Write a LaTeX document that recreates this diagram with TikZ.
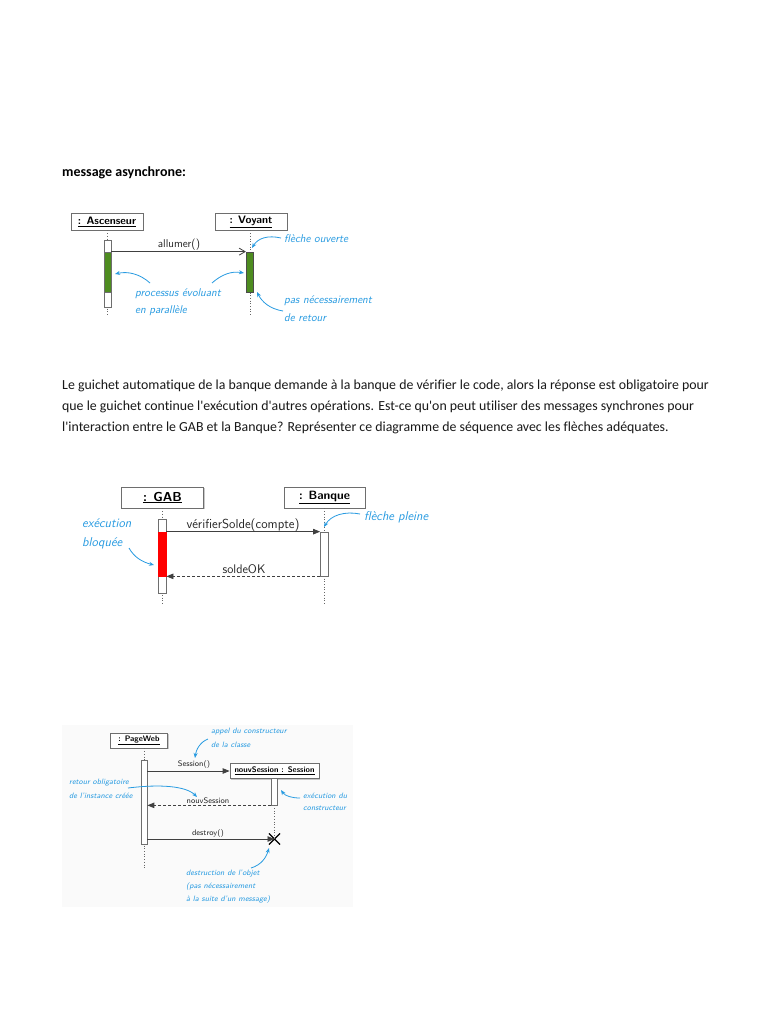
\documentclass[tikz,border=0pt]{standalone}
\usepackage{fontspec}
\newfontfamily\carlito[Ligatures={NoCommon}]{Carlito}
\usetikzlibrary{arrows.meta,shapes.misc,shadows}
\definecolor{annot}{RGB}{40,155,225}
\definecolor{actgreen}{RGB}{78,140,32}
\definecolor{boxedge}{RGB}{110,110,110}
\begin{document}
\begin{tikzpicture}[x=1pt,y=-1pt,
  obj/.style={draw=boxedge, fill=white, inner sep=0pt, line width=0.8pt, drop shadow={shadow xshift=1.2pt, shadow yshift=-1.2pt, fill=black!35, opacity=0.6}},
  lifeline/.style={draw=black!60, dotted, line width=0.7pt},
  act/.style={draw=boxedge, fill=white, inner sep=0pt, line width=0.7pt},
  msg/.style={draw=black!75, line width=0.8pt},
  asyncarrow/.style={msg, -{Straight Barb[length=6pt,width=7pt]}},
  syncarrow/.style={msg, -{Triangle[length=7pt,width=5.5pt]}},
  retarrow/.style={msg, densely dashed, -{Triangle[length=7pt,width=5.5pt]}},
  annarrow/.style={draw=annot, line width=0.8pt, -{Stealth[length=5pt,width=4pt]}},
  anntext/.style={text=annot, anchor=west, inner sep=0pt, font=\sffamily\itshape\fontsize{11.3}{13}\selectfont},
  lbl/.style={inner sep=0pt, text=black!85},
  partext/.style={anchor=base west, inner sep=0pt, font=\carlito\fontsize{13.85}{17}\selectfont, text=black!90}
]
\path[use as bounding box] (0,0) rectangle (768,1024);
\fill[white] (0,0) rectangle (768,1024);

% ---------- title ----------
\node[anchor=base west, inner sep=0pt, font=\carlito\bfseries\fontsize{14}{17}\selectfont] (title) at (62,177) {message asynchrone:};

% ---------- diagram 1 ----------
\begin{scope}[every node/.append style={font=\sffamily\fontsize{10.5}{12}\selectfont}]
\node[obj, minimum width=72, minimum height=17, font=\sffamily\bfseries\fontsize{10.8}{12}\selectfont] (asc) at (107,221.5) {\underline{: Ascenseur}};
\node[obj, minimum width=72, minimum height=17, font=\sffamily\bfseries\fontsize{10.8}{12}\selectfont] (voy) at (251,221.5) {\underline{: Voyant}};
\coordinate (ascEnd) at (107,316);
\coordinate (voyEnd) at (250,316);
\draw[lifeline] (asc.south) -- (ascEnd);
\draw[lifeline] (voy.south -| voyEnd) -- (voyEnd);
\node[act, minimum width=7, minimum height=67] (ascAct) at (107.5,273.5) {};
\node[act, fill=actgreen, minimum width=7, minimum height=40] (ascG) at (107.5,272) {};
\node[act, fill=actgreen, minimum width=7.5, minimum height=40, draw=black!70] (voyAct) at (250,272) {};
\draw[asyncarrow] (ascG.north east) -- (voyAct.north west);
\node[lbl, font=\sffamily\fontsize{11.3}{12}\selectfont] (allLbl) at (179,245) {allumer()};
\node[anntext] (t1a) at (284,239) {flèche ouverte};
\node[anntext] (t1b) at (135,294) {processus évoluant};
\node[anntext] (t1c) at (135,311) {en parallèle};
\node[anntext] (t1d) at (284,301) {pas nécessairement};
\node[anntext] (t1e) at (284,318) {de retour};
\coordinate (a1s) at (281,238); \coordinate (a1e) at (252,248);
\draw[annarrow] (a1s) .. controls (268,235) and (258,238) .. (a1e);
\coordinate (a2s) at (150,283); \coordinate (a2e) at (115,274);
\draw[annarrow] (a2s) .. controls (140,274) and (128,271) .. (a2e);
\coordinate (a3s) at (212,283); \coordinate (a3e) at (244,273);
\draw[annarrow] (a3s) .. controls (222,274) and (232,271) .. (a3e);
\coordinate (a4s) at (283,311); \coordinate (a4e) at (257,292);
\draw[annarrow] (a4s) .. controls (270,309) and (262,302) .. (a4e);
\end{scope}

% ---------- paragraph ----------
\node[partext] (par1) at (62,389) {Le guichet automatique de la banque demande à la banque de vérifier le code, alors la réponse est obligatoire pour};
\node[partext] (par2) at (62,410) {que le guichet continue l'exécution d'autres opérations. Est-ce qu'on peut utiliser des messages synchrones pour};
\node[partext] (par3) at (62,431) {l'interaction entre le GAB et la Banque? Représenter ce diagramme de séquence avec les flèches adéquates.};

% ---------- diagram 2 ----------
\begin{scope}
\node[obj, minimum width=82, minimum height=21, font=\sffamily\bfseries\fontsize{13}{14}\selectfont] (gab) at (162.5,497.5) {\underline{: GAB}};
\node[obj, minimum width=81, minimum height=21, font=\sffamily\bfseries\fontsize{12}{14}\selectfont] (bnq) at (324.5,497.5) {\underline{: Banque}};
\coordinate (gabEnd) at (162,603);
\coordinate (bnqEnd) at (324.5,603);
\draw[lifeline] (gab.south -| gabEnd) -- (gabEnd);
\draw[lifeline] (bnq.south) -- (bnqEnd);
\node[act, minimum width=7.5, minimum height=74] (gabAct) at (162.3,556) {};
\node[act, fill=red, draw=red, minimum width=7.5, minimum height=44] (gabR) at (162.3,554) {};
\node[act, minimum width=8, minimum height=44] (bnqAct) at (324.5,554) {};
\draw[syncarrow] (gabR.north east) -- (bnqAct.north west);
\draw[retarrow] (bnqAct.south west) -- (gabR.south east);
\node[lbl, font=\sffamily\fontsize{13}{14}\selectfont] (verLbl) at (243,525) {vérifierSolde(compte)};
\node[lbl, font=\sffamily\fontsize{12.5}{14}\selectfont] (sokLbl) at (244,569) {soldeOK};
\node[anntext, font=\sffamily\itshape\fontsize{12.8}{14}\selectfont] (t2a) at (82,523) {exécution};
\node[anntext, font=\sffamily\itshape\fontsize{12.8}{14}\selectfont] (t2b) at (82,543) {bloquée};
\node[anntext, font=\sffamily\itshape\fontsize{12.8}{14}\selectfont] (t2c) at (364,517) {flèche pleine};
\coordinate (b1s) at (360,514); \coordinate (b1e) at (324,527);
\draw[annarrow] (b1s) .. controls (345,511) and (331,515) .. (b1e);
\coordinate (b2s) at (129,548); \coordinate (b2e) at (154,565);
\draw[annarrow] (b2s) .. controls (134,557) and (142,562) .. (b2e);
\end{scope}

% ---------- diagram 3 ----------
\fill[black!2] (62,725) rectangle (353,907);
\begin{scope}[every node/.append style={font=\sffamily\fontsize{8}{9}\selectfont},
  anntext/.append style={font=\sffamily\itshape\fontsize{7.8}{9}\selectfont}]
\node[obj, minimum width=57, minimum height=15, font=\sffamily\bfseries\fontsize{8}{9}\selectfont] (pw) at (139,740.5) {\underline{: PageWeb}};
\coordinate (pwEnd) at (144,868);
\draw[lifeline] (pw.south -| pwEnd) -- (pwEnd);
\node[act, minimum width=6, minimum height=84] (pwAct) at (144,802) {};
\node[obj, minimum width=89, minimum height=15, font=\sffamily\bfseries\fontsize{8}{9}\selectfont] (ses) at (274.5,771) {\underline{nouvSession : Session}};
\node[act, minimum width=6, minimum height=27] (sesAct) at (274.5,791.5) {};
\node[cross out, draw=black, line width=1.1pt, minimum size=10pt, inner sep=0pt] (kill) at (274.5,839) {};
\draw[lifeline] (sesAct.south) -- (kill.center);
\coordinate (m1) at (pwAct.east |- ses.west);
\draw[syncarrow] (m1) -- (ses.west);
\coordinate (m2) at (pwAct.east |- sesAct.south);
\draw[retarrow] (sesAct.south west) -- (m2);
\coordinate (m3) at (pwAct.east |- kill.center);
\draw[syncarrow] (m3) -- (kill.center);
\node[lbl] (sesLbl) at (194,764) {Session()};
\node[lbl] (nsLbl) at (208,800.5) {nouvSession};
\node[lbl] (dsLbl) at (208,833.5) {destroy()};
\node[anntext] (t3a) at (211,732) {appel du constructeur};
\node[anntext] (t3b) at (211,745) {de la classe};
\node[anntext] (t3c) at (69,783) {retour obligatoire};
\node[anntext] (t3d) at (69,796) {de l'instance créée};
\node[anntext] (t3e) at (303,796) {exécution du};
\node[anntext] (t3f) at (303,808.5) {constructeur};
\node[anntext] (t3g) at (186,874) {destruction de l'objet};
\node[anntext] (t3h) at (186,887) {(pas nécessairement};
\node[anntext] (t3i) at (186,900) {à la suite d'un message)};
\coordinate (c1s) at (208,739); \coordinate (c1e) at (195,758);
\draw[annarrow] (c1s) .. controls (200,742) and (196,750) .. (c1e);
\coordinate (c2s) at (128,788); \coordinate (c2e) at (197,797);
\draw[annarrow] (c2s) .. controls (160,784) and (186,786) .. (c2e);
\coordinate (c3s) at (300,798); \coordinate (c3e) at (281,790);
\draw[annarrow] (c3s) .. controls (292,798) and (285,796) .. (c3e);
\coordinate (c4s) at (251,868); \coordinate (c4e) at (269,848);
\draw[annarrow] (c4s) .. controls (261,865) and (266,858) .. (c4e);
\end{scope}
\end{tikzpicture}
\end{document}
